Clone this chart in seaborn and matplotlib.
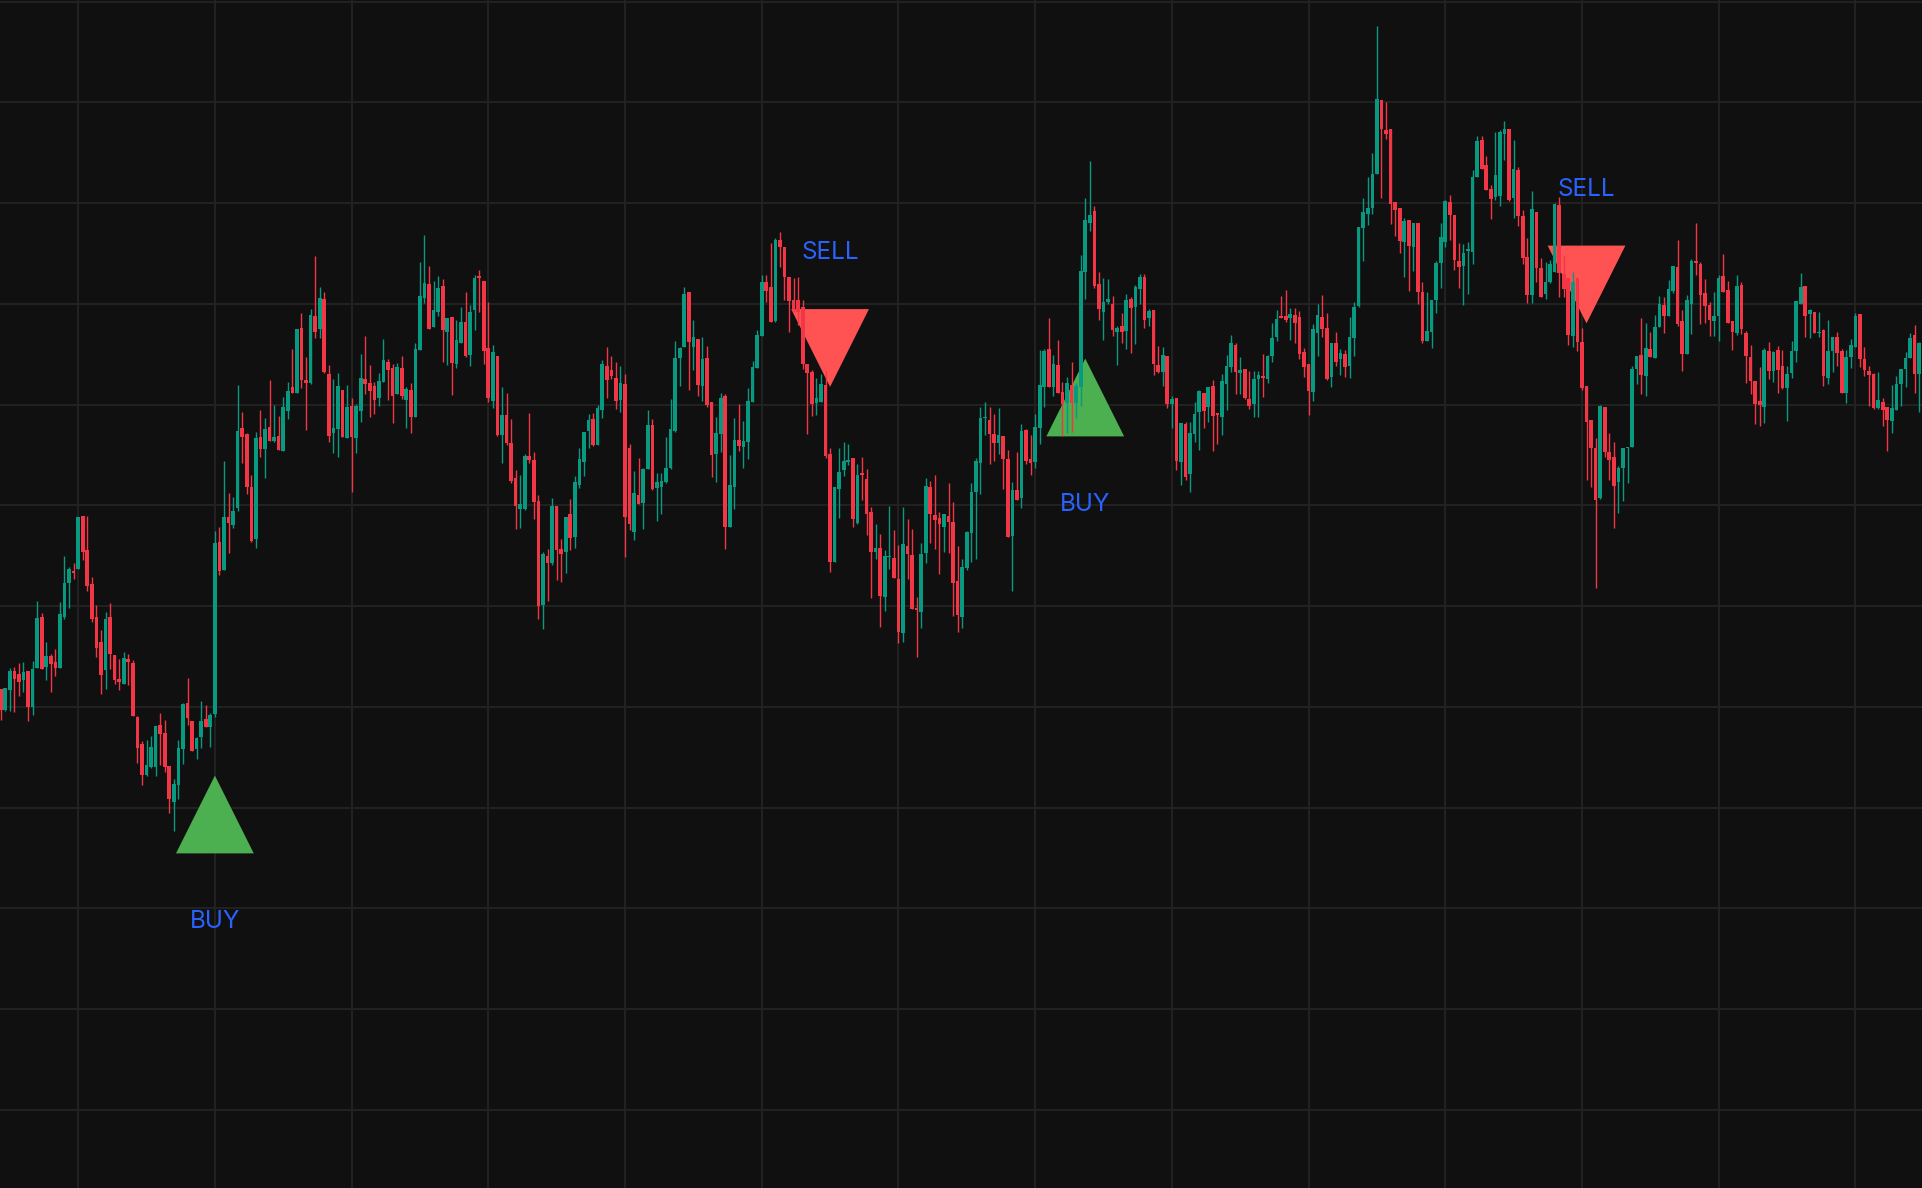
import numpy as np
import pandas as pd
import matplotlib
matplotlib.use("Agg")
import matplotlib.pyplot as plt
import seaborn as sns

# ---------------- data ----------------
opens = [
    49.9, 47.8, 49.8, 51.7, 51.4, 50.8, 51.7, 48.1, 52.0, 57.1,
    52.1, 53.2, 52.6, 52.0, 57.1, 60.5, 61.7, 61.9, 67.2, 63.8,
    60.4, 57.1, 54.6, 51.8, 57.1, 53.3, 50.9, 50.4, 52.9, 52.5,
    47.1, 44.4, 41.3, 42.1, 42.1, 46.3, 45.5, 42.2, 38.6, 40.3,
    43.9, 48.5, 46.7, 43.9, 45.1, 46.9, 46.1, 47.4, 64.6, 61.8,
    67.1, 66.3, 68.0, 76.0, 75.4, 70.1, 64.9, 75.1, 73.9, 76.1,
    74.7, 75.2, 73.7, 77.7, 80.1, 79.5, 86.0, 80.8, 80.5, 87.2,
    85.9, 88.9, 81.4, 75.5, 75.9, 79.8, 75.0, 78.2, 75.0, 77.7,
    80.9, 80.5, 80.2, 79.0, 80.6, 82.6, 82.0, 79.4, 82.0, 78.8,
    79.8, 77.1, 83.8, 89.0, 90.4, 86.1, 87.6, 90.2, 85.6, 87.1,
    82.4, 84.5, 86.6, 83.3, 87.8, 91.2, 90.7, 84.0, 78.7, 83.2,
    75.3, 77.3, 74.5, 71.0, 67.9, 67.9, 73.2, 72.8, 68.7, 58.3,
    63.2, 62.5, 68.2, 63.9, 63.6, 67.4, 65.1, 70.3, 72.6, 75.7,
    76.9, 74.3, 77.8, 82.2, 81.8, 81.0, 78.8, 80.4, 74.0, 65.6,
    69.3, 68.5, 71.9, 76.3, 70.0, 70.1, 70.6, 72.0, 75.7, 83.0,
    84.1, 89.6, 84.1, 84.9, 80.2, 83.0, 78.6, 73.4, 75.4, 79.2,
    66.1, 70.1, 74.8, 74.1, 74.6, 78.6, 82.0, 85.2, 90.6, 90.1,
    86.7, 94.8, 94.1, 91.1, 88.8, 88.8, 88.1, 82.4, 81.6, 78.5,
    78.6, 80.3, 73.4, 62.6, 69.9, 71.8, 72.6, 73.0, 66.5, 71.5,
    70.9, 67.6, 63.6, 64.0, 59.1, 63.1, 63.0, 60.9, 55.5, 64.2,
    63.3, 58.0, 57.6, 63.5, 70.1, 67.3, 67.0, 66.1, 67.2, 66.6,
    60.7, 57.1, 62.0, 65.5, 69.6, 72.5, 77.0, 76.8, 75.4, 74.5,
    75.2, 72.9, 65.2, 69.8, 69.0, 75.8, 72.9, 72.6, 76.0, 80.1,
    83.9, 80.1, 82.3, 79.6, 78.5, 80.3, 78.5, 80.1, 91.6, 96.5,
    97.7, 90.4, 87.6, 88.6, 88.4, 85.6, 86.2, 85.7, 88.9, 88.1,
    89.9, 91.1, 87.0, 87.8, 82.3, 81.6, 83.2, 78.4, 79.0, 72.6,
    76.4, 71.4, 75.4, 77.6, 79.5, 78.1, 80.2, 77.5, 77.1, 80.4,
    82.1, 84.3, 81.5, 81.9, 78.9, 78.4, 80.9, 81.2, 80.9, 83.2,
    85.1, 87.2, 87.2, 87.0, 87.3, 87.1, 83.6, 82.4, 79.6, 85.5,
    87.1, 86.0, 81.1, 84.5, 82.9, 83.4, 82.2, 85.0, 88.2, 96.0,
    97.4, 98.0, 101.4, 108.8, 105.8, 105.9, 98.6, 98.0, 94.6, 96.8,
    94.1, 96.5, 89.6, 84.7, 85.6, 88.8, 92.5, 94.6, 98.6, 97.3,
    92.7, 92.2, 93.7, 93.6, 101.1, 104.8, 102.3, 99.9, 99.1, 99.2,
    105.4, 105.9, 99.0, 101.8, 97.2, 93.1, 89.3, 97.6, 92.0, 89.4,
    90.6, 91.6, 98.3, 91.4, 91.0, 85.2, 91.0, 84.6, 80.2, 76.8,
    74.0, 69.0, 78.1, 73.6, 73.1, 70.6, 72.0, 74.0, 74.1, 81.9,
    83.3, 81.2, 83.9, 83.0, 86.1, 88.3, 87.2, 89.7, 92.1, 86.7,
    83.4, 88.4, 92.7, 92.4, 89.5, 88.3, 86.7, 87.2, 91.2, 89.8,
    86.7, 85.5, 90.3, 85.5, 83.1, 80.7, 78.7, 78.1, 83.7, 81.7,
    83.8, 82.2, 80.0, 81.5, 83.7, 88.4, 90.2, 87.4, 87.6, 85.5,
    85.8, 81.0, 83.7, 85.1, 83.7, 79.5, 83.1, 84.1, 87.4, 82.9,
    81.7, 81.4, 78.0, 78.6, 78.1, 76.7, 77.8, 80.4, 81.9, 83.0,
    85.3, 81.4, 84.6,
]

highs = [
    49.9, 50.0, 52.0, 52.1, 52.5, 52.6, 51.7, 52.7, 58.7, 57.5,
    54.6, 53.4, 53.9, 58.6, 63.2, 62.1, 62.5, 67.1, 67.2, 67.2,
    61.1, 58.3, 55.8, 57.6, 58.5, 53.3, 52.9, 53.6, 53.4, 52.8,
    47.2, 44.7, 44.8, 45.2, 46.2, 47.5, 46.8, 42.2, 40.9, 44.8,
    48.5, 51.0, 46.7, 45.1, 48.7, 48.3, 47.5, 65.7, 66.1, 72.7,
    69.5, 69.1, 80.3, 77.6, 75.5, 71.3, 75.6, 77.8, 77.0, 80.8,
    78.3, 77.2, 79.1, 80.6, 83.9, 85.9, 87.5, 83.1, 87.9, 93.2,
    90.1, 89.6, 82.3, 80.9, 81.5, 79.8, 80.3, 79.0, 78.4, 83.4,
    85.2, 82.3, 80.6, 81.5, 84.9, 82.9, 82.4, 82.5, 83.2, 80.1,
    80.5, 84.5, 92.6, 95.3, 92.2, 90.7, 91.2, 90.9, 87.0, 87.1,
    86.8, 88.1, 89.6, 88.3, 91.3, 91.8, 90.7, 88.6, 84.3, 83.2,
    80.1, 79.5, 76.9, 71.8, 71.3, 73.4, 77.5, 73.6, 69.3, 63.6,
    63.9, 69.0, 68.2, 64.9, 67.1, 68.9, 71.2, 74.0, 75.6, 77.4,
    77.5, 78.3, 82.8, 84.1, 83.2, 82.6, 82.2, 81.4, 74.4, 71.7,
    73.0, 72.0, 77.8, 76.9, 71.5, 71.5, 75.1, 78.9, 84.7, 84.1,
    90.1, 89.6, 86.8, 84.9, 85.1, 84.2, 78.6, 77.1, 79.5, 79.4,
    73.3, 77.0, 78.4, 76.7, 80.0, 82.7, 85.8, 91.3, 91.3, 94.5,
    95.0, 95.6, 94.1, 91.1, 91.0, 91.1, 88.8, 82.4, 81.8, 81.0,
    81.4, 81.7, 74.0, 70.1, 74.0, 74.6, 74.4, 73.0, 72.4, 73.1,
    71.9, 68.1, 66.4, 65.4, 63.8, 68.2, 65.8, 64.3, 68.1, 66.9,
    65.9, 59.1, 64.5, 71.0, 70.7, 71.3, 67.6, 67.4, 70.5, 68.6,
    64.2, 62.9, 65.7, 70.5, 73.0, 78.1, 78.6, 78.1, 77.4, 78.0,
    75.2, 73.8, 70.6, 73.6, 76.4, 75.9, 75.3, 77.4, 83.8, 83.9,
    87.0, 83.3, 84.8, 80.6, 81.1, 82.6, 80.5, 93.3, 99.0, 102.7,
    98.2, 91.6, 91.0, 90.9, 89.2, 86.2, 87.5, 89.4, 89.1, 90.3,
    91.4, 91.4, 87.9, 87.8, 84.2, 84.1, 83.2, 79.2, 79.0, 76.5,
    76.6, 76.6, 78.6, 79.8, 79.5, 80.1, 80.8, 77.5, 81.4, 83.3,
    85.3, 84.5, 83.1, 81.9, 81.7, 81.7, 81.7, 83.4, 83.3, 86.5,
    87.8, 89.2, 89.8, 88.0, 88.0, 87.7, 84.0, 82.4, 86.4, 88.4,
    89.3, 87.5, 84.5, 85.6, 83.9, 83.8, 87.1, 88.6, 96.1, 99.0,
    101.1, 103.5, 116.2, 108.8, 108.6, 105.9, 98.6, 98.0, 97.0, 96.8,
    96.5, 96.5, 90.6, 89.6, 88.8, 92.7, 96.5, 98.8, 99.3, 97.3,
    94.5, 94.4, 94.6, 101.8, 105.2, 105.2, 103.2, 100.3, 105.6, 105.8,
    106.7, 105.9, 104.8, 102.1, 97.8, 95.0, 99.7, 97.6, 93.0, 92.6,
    92.8, 98.5, 99.1, 93.2, 91.0, 91.6, 91.0, 86.0, 80.2, 76.8,
    75.0, 78.3, 78.1, 75.5, 74.6, 72.2, 74.0, 74.1, 82.2, 83.2,
    87.0, 86.5, 85.6, 87.3, 89.2, 89.1, 90.8, 92.2, 94.8, 87.8,
    89.3, 92.9, 96.5, 92.6, 90.9, 88.6, 89.6, 91.3, 93.4, 90.7,
    86.7, 91.3, 90.6, 85.7, 84.3, 80.7, 82.1, 84.0, 84.6, 83.7,
    84.2, 83.8, 82.2, 84.7, 88.7, 91.5, 90.2, 87.9, 87.6, 87.6,
    85.9, 86.8, 85.1, 85.6, 83.9, 83.8, 84.9, 87.5, 87.4, 84.1,
    82.2, 81.5, 81.6, 79.0, 78.1, 80.3, 81.2, 81.9, 83.6, 85.5,
    86.3, 84.6, 89.0,
]

lows = [
    46.8, 47.7, 47.7, 47.6, 49.2, 49.6, 46.7, 47.3, 52.0, 51.9,
    50.8, 49.6, 51.2, 52.0, 56.9, 58.0, 60.9, 61.9, 62.8, 59.7,
    56.6, 53.1, 49.4, 49.9, 51.9, 50.4, 49.8, 50.4, 50.3, 47.2,
    42.5, 40.3, 41.2, 42.0, 41.2, 42.3, 41.6, 37.5, 35.7, 38.9,
    42.4, 46.3, 43.7, 42.9, 44.0, 46.1, 44.1, 47.1, 61.3, 61.8,
    63.5, 66.0, 67.7, 72.5, 69.4, 64.6, 64.0, 73.1, 71.0, 74.7,
    74.6, 73.8, 73.7, 76.9, 79.5, 79.5, 80.0, 75.8, 80.4, 85.0,
    85.0, 81.5, 74.6, 73.5, 73.1, 75.1, 75.0, 69.6, 73.5, 76.6,
    79.4, 77.1, 77.4, 78.2, 80.6, 78.8, 76.5, 79.4, 78.9, 76.0,
    75.5, 77.1, 83.8, 88.5, 85.9, 86.1, 87.2, 82.6, 82.3, 79.3,
    82.0, 84.5, 83.1, 82.2, 85.8, 87.6, 82.4, 78.6, 78.0, 75.2,
    72.5, 74.3, 70.5, 65.9, 66.0, 67.8, 72.5, 66.9, 56.9, 55.9,
    58.7, 62.3, 60.8, 60.6, 61.5, 63.8, 64.0, 70.0, 71.2, 74.0,
    74.2, 74.3, 77.0, 79.0, 80.9, 77.9, 77.6, 63.1, 65.8, 64.8,
    68.4, 65.9, 71.9, 69.8, 66.7, 67.4, 70.5, 71.9, 75.6, 80.2,
    84.1, 79.8, 81.8, 79.2, 78.7, 78.1, 71.1, 70.6, 73.6, 63.9,
    66.1, 67.9, 73.7, 72.0, 72.9, 78.6, 82.0, 85.2, 88.6, 86.6,
    86.6, 92.1, 88.8, 85.6, 87.6, 86.3, 81.9, 75.4, 77.2, 77.3,
    78.6, 73.0, 61.6, 62.6, 67.0, 71.2, 72.3, 66.1, 66.4, 68.8,
    65.3, 59.0, 62.9, 56.1, 57.7, 61.9, 61.0, 54.5, 54.6, 60.9,
    57.9, 53.1, 56.0, 62.5, 64.5, 63.9, 61.4, 63.6, 63.5, 57.2,
    55.6, 56.0, 61.8, 62.6, 62.9, 69.4, 75.3, 72.4, 72.7, 73.4,
    69.9, 65.1, 59.7, 68.8, 68.0, 72.4, 71.3, 72.0, 74.4, 78.1,
    80.1, 79.2, 79.5, 75.2, 75.5, 75.6, 77.0, 78.2, 88.9, 95.7,
    90.0, 86.8, 84.8, 88.4, 85.2, 82.3, 84.5, 83.9, 83.5, 84.4,
    88.4, 86.0, 86.2, 81.3, 81.5, 80.2, 78.0, 76.0, 71.8, 70.3,
    70.8, 69.6, 74.6, 73.8, 76.0, 76.6, 73.7, 74.4, 75.3, 77.8,
    81.6, 79.4, 79.4, 78.9, 77.9, 77.1, 77.1, 79.1, 80.5, 82.6,
    84.7, 87.0, 86.6, 84.8, 84.5, 82.9, 81.1, 77.3, 78.7, 83.2,
    85.1, 80.8, 80.1, 82.2, 81.3, 81.1, 81.0, 83.2, 88.1, 92.7,
    96.3, 97.4, 101.4, 99.0, 104.9, 96.4, 95.2, 93.5, 91.1, 89.7,
    91.7, 88.4, 84.5, 84.7, 84.0, 87.5, 90.0, 94.1, 94.8, 91.8,
    90.0, 88.3, 89.4, 92.4, 101.1, 101.9, 99.8, 96.9, 98.8, 98.2,
    102.8, 98.7, 97.0, 96.2, 92.4, 88.5, 88.5, 90.6, 89.1, 88.9,
    90.5, 91.6, 89.1, 89.1, 84.3, 84.1, 83.7, 79.8, 70.8, 70.1,
    60.0, 68.9, 73.1, 70.8, 66.0, 67.5, 68.7, 70.5, 74.1, 80.4,
    79.4, 79.2, 83.1, 83.0, 86.1, 85.5, 87.2, 89.5, 86.2, 81.7,
    83.4, 85.4, 91.3, 86.4, 86.5, 85.2, 85.2, 84.7, 89.6, 86.5,
    83.8, 85.3, 85.4, 80.5, 79.4, 76.4, 76.2, 76.5, 80.9, 80.6,
    79.5, 79.9, 76.7, 81.0, 82.6, 88.4, 85.1, 85.0, 85.5, 85.1,
    80.2, 80.4, 81.6, 82.2, 79.5, 78.5, 82.0, 84.1, 82.1, 81.2,
    78.2, 77.9, 77.9, 76.2, 73.7, 75.5, 77.8, 78.2, 80.1, 83.0,
    79.5, 77.6, 84.0,
]

closes = [
    47.8, 50.0, 51.7, 50.9, 50.6, 51.6, 48.1, 51.9, 57.0, 51.9,
    53.2, 52.4, 52.0, 57.4, 60.5, 61.9, 61.5, 67.1, 63.6, 60.2,
    56.9, 54.0, 51.3, 56.9, 53.4, 50.8, 50.6, 53.0, 52.6, 47.2,
    44.0, 41.3, 42.3, 44.1, 46.2, 45.4, 42.1, 38.9, 40.4, 44.0,
    48.4, 47.0, 43.7, 45.0, 46.7, 46.1, 47.3, 64.5, 61.7, 67.1,
    66.5, 67.7, 75.7, 75.1, 70.1, 64.7, 75.0, 73.9, 75.9, 74.7,
    75.1, 73.8, 78.1, 79.7, 79.5, 85.9, 80.8, 80.5, 87.3, 85.6,
    89.0, 81.6, 75.2, 76.0, 80.2, 75.1, 78.1, 75.1, 78.2, 81.0,
    80.4, 79.7, 78.8, 80.7, 82.8, 81.8, 79.2, 82.1, 79.2, 79.9,
    77.1, 83.9, 89.2, 90.5, 85.9, 87.8, 90.0, 85.8, 87.0, 82.5,
    84.8, 86.6, 83.2, 87.6, 91.0, 91.0, 83.7, 79.0, 83.6, 75.3,
    77.3, 74.5, 70.7, 68.2, 68.4, 73.2, 72.8, 68.6, 58.2, 63.4,
    62.5, 68.2, 63.8, 63.4, 67.1, 65.0, 70.6, 72.9, 75.6, 76.8,
    74.3, 78.0, 82.4, 80.8, 81.2, 78.7, 80.5, 67.1, 66.4, 69.5,
    68.4, 71.9, 76.3, 69.9, 70.6, 70.7, 72.0, 75.9, 83.0, 84.0,
    89.4, 84.6, 85.1, 80.3, 82.9, 78.3, 73.3, 75.5, 79.0, 66.1,
    70.3, 74.8, 74.2, 74.7, 78.7, 82.1, 85.3, 90.6, 89.7, 86.6,
    94.8, 94.1, 91.1, 88.7, 87.8, 87.6, 82.4, 81.5, 78.4, 79.0,
    80.4, 73.2, 62.6, 70.1, 71.6, 72.7, 72.8, 66.9, 71.3, 71.3,
    67.4, 63.6, 64.0, 59.2, 63.2, 63.2, 61.0, 55.6, 64.4, 63.4,
    57.9, 57.8, 63.4, 70.2, 67.4, 66.8, 66.4, 67.4, 66.6, 60.5,
    57.3, 62.1, 65.6, 69.6, 72.7, 77.0, 77.1, 75.4, 74.5, 75.3,
    72.9, 65.1, 69.8, 68.8, 75.7, 72.7, 72.5, 76.1, 80.3, 83.7,
    80.1, 82.4, 79.5, 78.4, 80.5, 78.5, 80.2, 91.7, 96.8, 97.3,
    90.2, 87.9, 88.6, 88.9, 85.8, 86.0, 85.6, 88.8, 88.0, 90.1,
    91.1, 86.8, 87.7, 82.4, 81.6, 83.3, 78.4, 78.9, 72.7, 76.5,
    71.1, 75.5, 77.4, 79.7, 77.7, 80.1, 77.2, 77.3, 80.7, 82.2,
    84.5, 81.6, 81.8, 79.0, 78.2, 80.9, 81.3, 81.0, 83.2, 85.0,
    86.9, 87.0, 86.8, 87.4, 86.5, 83.4, 82.1, 79.7, 85.9, 87.3,
    85.9, 80.9, 84.5, 82.6, 83.5, 82.1, 85.1, 88.1, 96.1, 97.6,
    98.0, 101.4, 108.9, 105.9, 105.4, 98.4, 97.8, 94.7, 96.7, 94.2,
    96.5, 89.6, 84.7, 85.7, 88.8, 92.5, 95.1, 98.7, 97.3, 92.8,
    92.1, 93.5, 93.9, 101.1, 104.7, 101.9, 99.8, 98.9, 101.3, 105.6,
    105.9, 98.8, 101.9, 97.2, 93.0, 89.3, 97.9, 92.0, 89.1, 90.6,
    92.4, 98.4, 91.5, 89.9, 85.3, 90.6, 84.6, 80.0, 76.6, 74.0,
    68.8, 78.2, 73.6, 72.8, 70.2, 72.0, 74.0, 74.1, 81.9, 83.2,
    81.3, 84.0, 83.1, 86.1, 88.4, 87.2, 89.9, 92.2, 86.4, 83.4,
    88.8, 92.7, 92.5, 89.3, 88.2, 86.8, 87.2, 91.0, 89.6, 86.5,
    85.6, 90.2, 85.9, 83.2, 80.7, 78.4, 78.3, 83.8, 81.7, 83.6,
    81.8, 80.0, 81.4, 83.7, 88.7, 90.1, 87.2, 87.8, 85.5, 85.6,
    81.2, 83.7, 85.1, 83.5, 79.5, 83.1, 84.3, 87.2, 82.9, 81.8,
    81.3, 78.0, 78.8, 77.8, 76.8, 78.0, 80.4, 81.9, 83.0, 85.0,
    81.4, 84.5, 88.7,
]

signal_idx = [47, 182, 238, 348]
signal_price = [37.35, 84.0, 79.05, 90.35]
signal_kind = ["BUY", "SELL", "BUY", "SELL"]

# ---------------- style ----------------
BG = "#101010"
GRID = "#222222"
UP = "#089981"
DOWN = "#F23645"
BUY_C = "#4CAF50"
SELL_C = "#FF5252"
TXT = "#2962FF"

sns.set_theme(style="dark", rc={"axes.facecolor": BG, "figure.facecolor": BG,
                                "savefig.facecolor": BG, "grid.color": GRID,
                                "axes.edgecolor": BG})
plt.rcParams["font.family"] = ["Inter", "DejaVu Sans"]

fig = plt.figure(figsize=(19.22, 11.88), dpi=100)
ax = fig.add_axes([0, 0, 1, 1])

df = pd.DataFrame({"open": opens, "high": highs, "low": lows, "close": closes})
df["idx"] = np.arange(len(df))
o = df["open"].to_numpy()
c = df["close"].to_numpy()
body_lo = np.minimum(o, c)
body_hi = np.maximum(o, c)
colors = np.where(c >= o, UP, DOWN)

# wicks
ax.vlines(df["idx"], np.minimum(df["low"], body_lo), np.maximum(df["high"], body_hi),
          colors=colors, linewidth=1.0, zorder=3)
# bodies
ax.bar(df["idx"], np.maximum(body_hi - body_lo, 0.12), bottom=body_lo, width=0.8,
       color=colors, linewidth=0, zorder=3)

# signal markers
sig = pd.DataFrame({"idx": signal_idx, "price": signal_price, "kind": signal_kind})
sns.scatterplot(data=sig, x="idx", y="price", hue="kind", style="kind",
                palette={"BUY": BUY_C, "SELL": SELL_C},
                markers={"BUY": "^", "SELL": "v"},
                s=56 ** 2, linewidth=0, legend=False, ax=ax, zorder=2)

for _, r in sig.iterrows():
    dy = -82 if r["kind"] == "BUY" else 64
    ax.annotate(r["kind"], (r["idx"], r["price"]), xytext=(0, dy),
                textcoords="offset points", ha="center", va="baseline",
                color=TXT, fontsize=17.5, zorder=4)

# grid / axes
ax.set_xlim(-0.154, 421.62)
ax.set_ylim(0, 118.8)
ax.set_xticks(np.arange(17, len(df), 30))
ax.set_yticks(118.63 - 10.075 * np.arange(12))
ax.grid(True, color=GRID, linewidth=1.4)
ax.set_axisbelow(True)
ax.tick_params(length=0, labelbottom=False, labelleft=False)
ax.set_xlabel("")
ax.set_ylabel("")
for sp in ax.spines.values():
    sp.set_visible(False)

fig.savefig("out.png", dpi=100, facecolor=BG)
